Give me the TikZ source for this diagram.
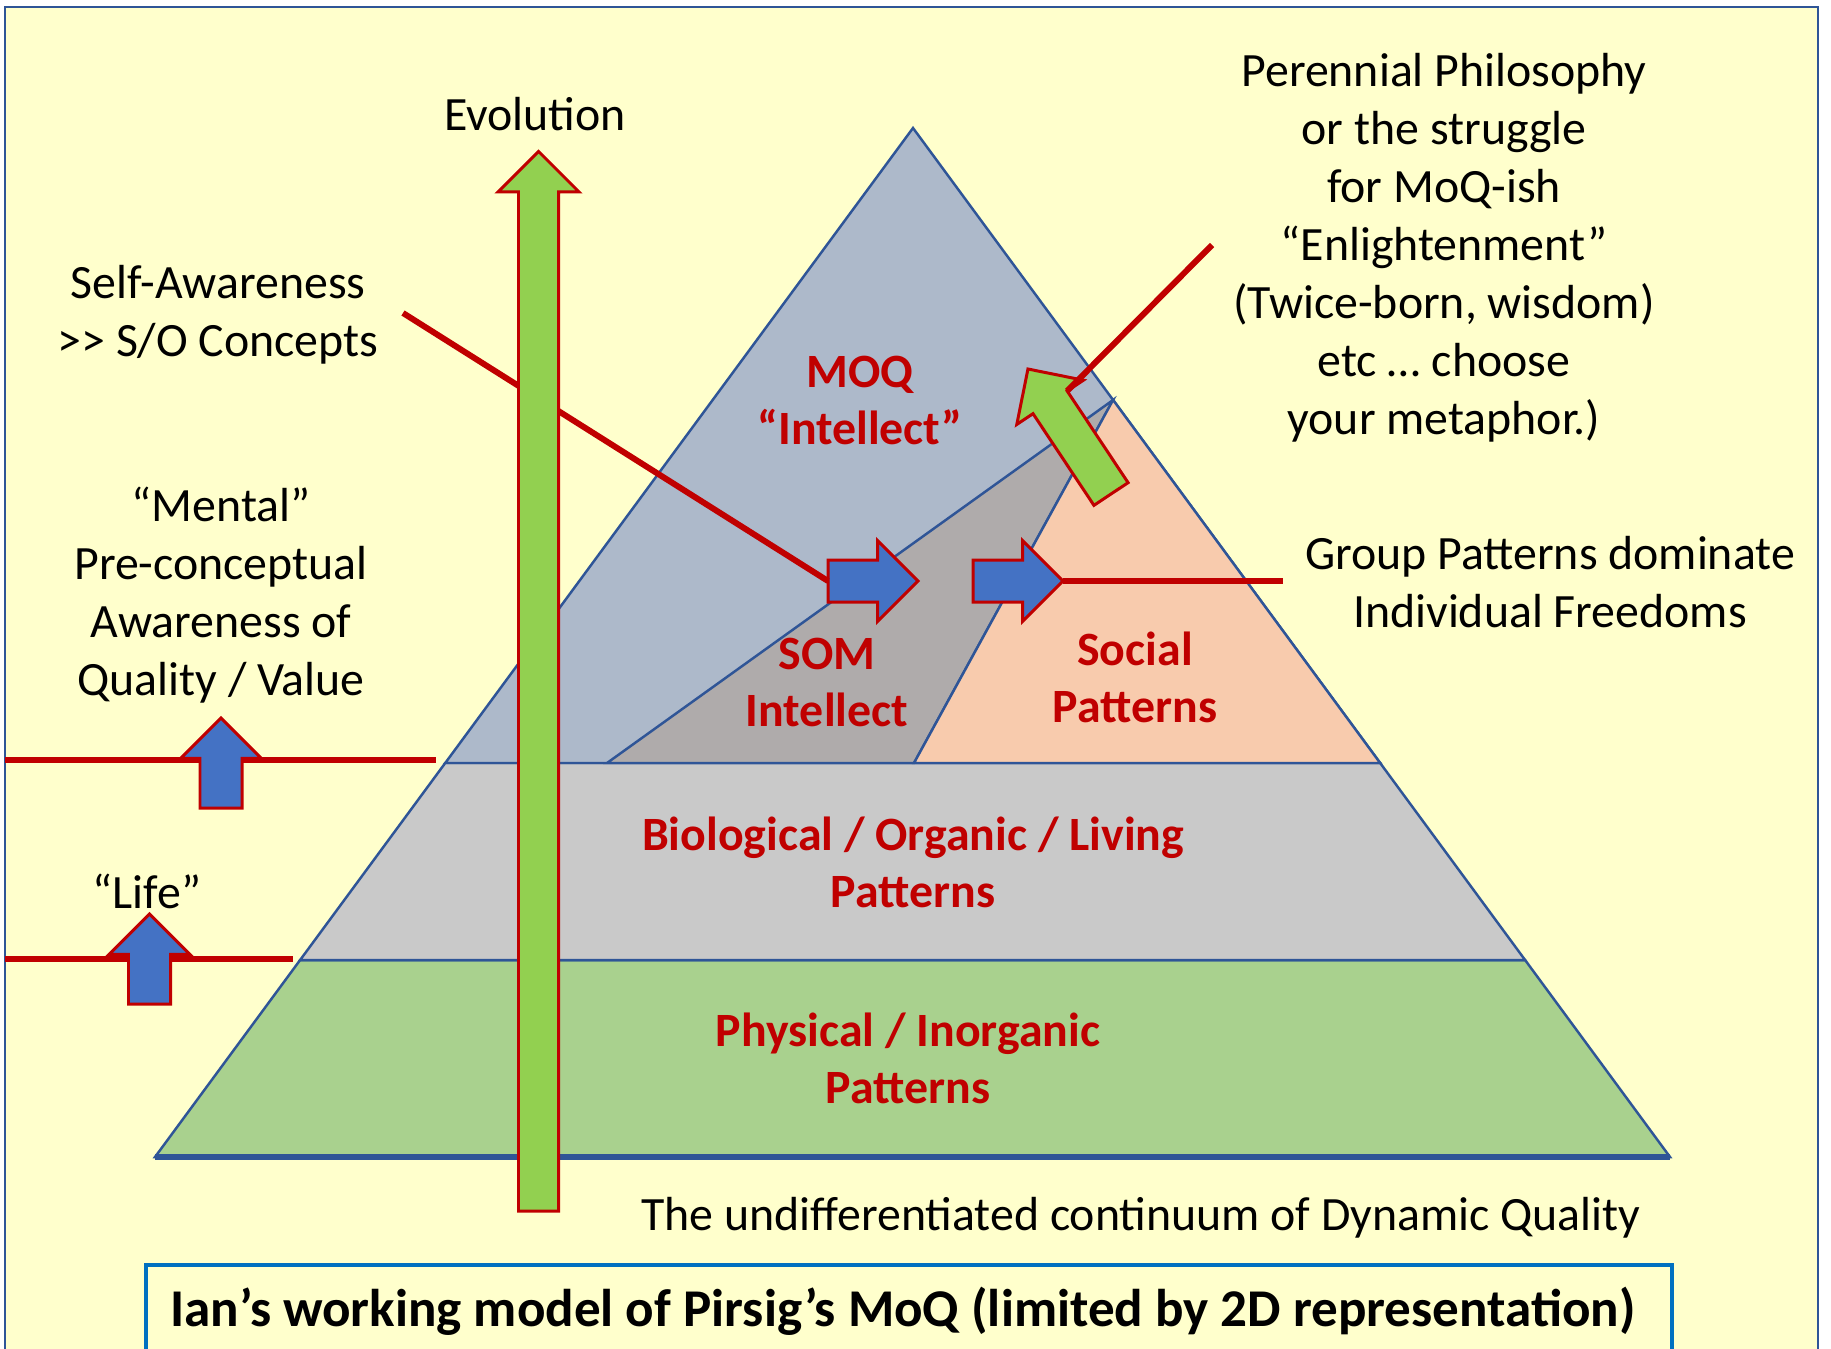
\documentclass[tikz,border=0pt]{standalone}
\usepackage{fontspec}
\setmainfont{Carlito}
\usetikzlibrary{shapes.arrows,calc}

\definecolor{hgrund}{HTML}{FFFFCC}
\definecolor{rahmenblau}{HTML}{2F5597}
\definecolor{kantenblau}{HTML}{2F5597}
\definecolor{titelblau}{HTML}{0070C0}
\definecolor{rot}{HTML}{C00000}
\definecolor{pfeilblau}{HTML}{4472C4}
\definecolor{pfeilgruen}{HTML}{92D050}
\definecolor{moqfarbe}{HTML}{ADB9CA}
\definecolor{somfarbe}{HTML}{AFABAB}
\definecolor{sozfarbe}{HTML}{F8CBAD}
\definecolor{biofarbe}{HTML}{C9C9C9}
\definecolor{physfarbe}{HTML}{A9D18E}

\tikzset{
	txt/.style={align=center,font=\fontsize{13.6pt}{16.5pt}\selectfont},
	ebene/.style={align=center,text=rot,font=\fontsize{13.6pt}{16.2pt}\selectfont\bfseries},
	kante/.style={draw=kantenblau,line width=0.7pt},
	rotlinie/.style={draw=rot,line width=1.7pt},
	blockpfeil/.style={single arrow,draw=rot,line width=0.85pt,inner sep=0pt,outer sep=0pt},
	blaupfeil/.style={blockpfeil,fill=pfeilblau,inner ysep=0.195cm,single arrow head extend=0.195cm,minimum height=0.9cm},
	gruenpfeil/.style={blockpfeil,fill=pfeilgruen,inner ysep=0.19cm,single arrow head extend=0.195cm}
}

\begin{document}
\begin{tikzpicture}[x=0.01cm,y=-0.01cm]
		% Rahmen und Hintergrund
		\useasboundingbox (0,0) rectangle (1831,1348);
		\clip (0,0) rectangle (1831,1348);
		\fill[hgrund] (5,7) rectangle (1818,1380);
		\draw[rahmenblau,line width=0.8pt] (5,1380) -- (5,7) -- (1818,7) -- (1818,1380);
		
		% Eckpunkte der Pyramide
		\coordinate (spitze) at (913,128);
		\coordinate (links) at (155,1157);
		\coordinate (rechts) at (1670,1157);
		\coordinate (l1) at ($(spitze)!0.6171!(links)$);
		\coordinate (r1) at ($(spitze)!0.6171!(rechts)$);
		\coordinate (l2) at ($(spitze)!0.8086!(links)$);
		\coordinate (r2) at ($(spitze)!0.8086!(rechts)$);
		\coordinate (p) at ($(spitze)!0.2643!(rechts)$);
		\coordinate (som) at (607,763);
		\coordinate (soz) at (914,763);
		
		% Ebenen zeichnen
		\filldraw[kante,fill=physfarbe] (l2) -- (r2) -- (rechts) -- (links) -- cycle;
		\filldraw[kante,fill=biofarbe] (l1) -- (r1) -- (r2) -- (l2) -- cycle;
		\filldraw[kante,fill=moqfarbe] (spitze) -- (l1) -- (r1) -- cycle;
		\filldraw[kante,fill=somfarbe] (som) -- (p) -- (soz) -- cycle;
		\filldraw[kante,fill=sozfarbe] (soz) -- (p) -- (r1) -- cycle;
		\draw[kante,line width=1.5pt] (links) -- (rechts);
		
		% Schwellen links
		\coordinate (m1) at (5,760);
		\coordinate (m2) at (436,760);
		\coordinate (s1) at (5,959);
		\coordinate (s2) at (293,959);
		\draw[rotlinie] (m1) -- (m2);
		\draw[rotlinie] (s1) -- (s2);
		\node[blaupfeil,rotate=90,anchor=tail] (mental-pfeil) at (221,808) {};
		\node[blaupfeil,rotate=90,anchor=tail] (life-pfeil) at (149.5,1004) {};
		
		% Pfeile in der Pyramide
		\node[blaupfeil,anchor=tail] (blau1) at (828,581) {};
		\node[blaupfeil,anchor=tail] (blau2) at (973,581) {};
		\coordinate (sa) at (403,313);
		\draw[rotlinie] (sa) -- (blau1.tail);
		
		% Evolution
		\node[gruenpfeil,inner ysep=0.185cm,single arrow head extend=0.205cm,minimum height=10.59cm,rotate=90,anchor=tail] (evo-pfeil) at (538.5,1211) {};
		\node[gruenpfeil,minimum height=1.5cm,rotate=123.6,anchor=tail] (gruen) at (1111,494) {};
		\coordinate (pp) at (1212,245);
		\draw[rotlinie] (pp) -- (gruen.after head);
		\coordinate (gp) at (1283,581);
		\draw[rotlinie] (blau2.tip) -- (gp);
		
		% Beschriftungen
		\node[txt] (evolution) at (535,114) {Evolution};
		\node[txt] (selbst) at (218,315) {Self-Awareness\\>{}> S/O Concepts};
		\node[txt] (mental) at (221,595) {“Mental”\\Pre-conceptual\\Awareness of\\Quality / Value};
		\node[txt] (life) at (147,891) {“Life”};
		\node[txt] (perennial) at (1444,248) {Perennial Philosophy\\or the struggle\\for MoQ-ish\\“Enlightenment”\\(Twice-born, wisdom)\\etc … choose\\your metaphor.)};
		\node[txt] (gruppe) at (1550,582) {Group Patterns dominate\\Individual Freedoms};
		\node[txt] (kontinuum) at (1141,1218) {The undifferentiated continuum of Dynamic Quality};
		\node[ebene] (moq) at (860,400) {MOQ\\“Intellect”};
		\node[ebene] (somtext) at (827,682) {SOM\\Intellect};
		\node[ebene] (sozial) at (1135,677) {Social\\Patterns};
		\node[ebene] (bio) at (913,862) {Biological / Organic / Living\\Patterns};
		\node[ebene] (phys) at (908,1058) {Physical / Inorganic\\Patterns};
		
		% Titel
		\draw[titelblau,line width=1.4pt] (146,1380) -- (146,1265) -- (1672,1265) -- (1672,1380);
		\node[font=\fontsize{15.1pt}{18pt}\selectfont\bfseries] (titel) at (903,1311) {Ian’s working model of Pirsig’s MoQ (limited by 2D representation)};
	\end{tikzpicture}
\end{document}
